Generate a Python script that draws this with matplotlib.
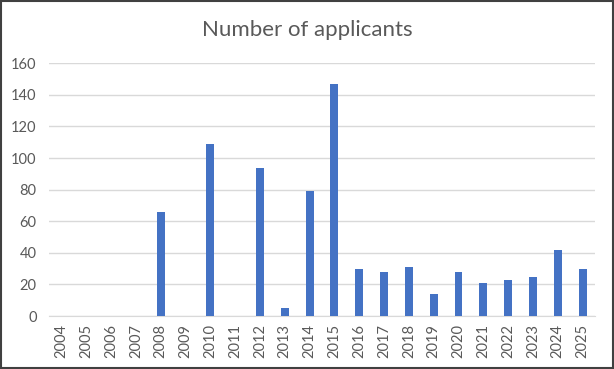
import matplotlib.pyplot as plt
from matplotlib.patches import Rectangle

years = [str(y) for y in range(2004, 2026)]
applicants = [0, 0, 0, 0, 66, 0, 109, 0, 94, 5, 79, 147,
              30, 28, 31, 14, 28, 21, 23, 25, 42, 30]

plt.rcParams['font.family'] = ['Lato', 'DejaVu Sans']

fig = plt.figure(figsize=(6.14, 3.69), dpi=100)
ax = fig.add_axes([0.08, 0.1436, 0.889, 0.685])

x = range(len(years))
ax.bar(x, applicants, width=0.32, color='#4472C4', zorder=3)

ax.set_xlim(-0.5, len(years) - 0.5)
ax.set_ylim(0, 160)
ax.set_yticks(range(0, 161, 20))
ax.set_xticks(list(x))
ax.set_xticklabels(years, rotation=90)
ax.tick_params(axis='both', length=0, colors='#595959', labelsize=10.5)
ax.tick_params(axis='y', pad=9)
ax.tick_params(axis='x', pad=6)

ax.grid(axis='y', color='#D9D9D9', linewidth=1, zorder=0)
for side in ['top', 'right', 'left']:
    ax.spines[side].set_visible(False)
ax.spines['bottom'].set_color('#D9D9D9')

fig.text(0.5, 0.92, 'Number of applicants', ha='center', va='center',
         fontsize=16, color='#595959')

fig.patches.append(Rectangle((0.002, 0.003), 0.996, 0.994, transform=fig.transFigure,
                             fill=False, edgecolor='#404040', linewidth=1.5))

fig.savefig('out.png', dpi=100)
